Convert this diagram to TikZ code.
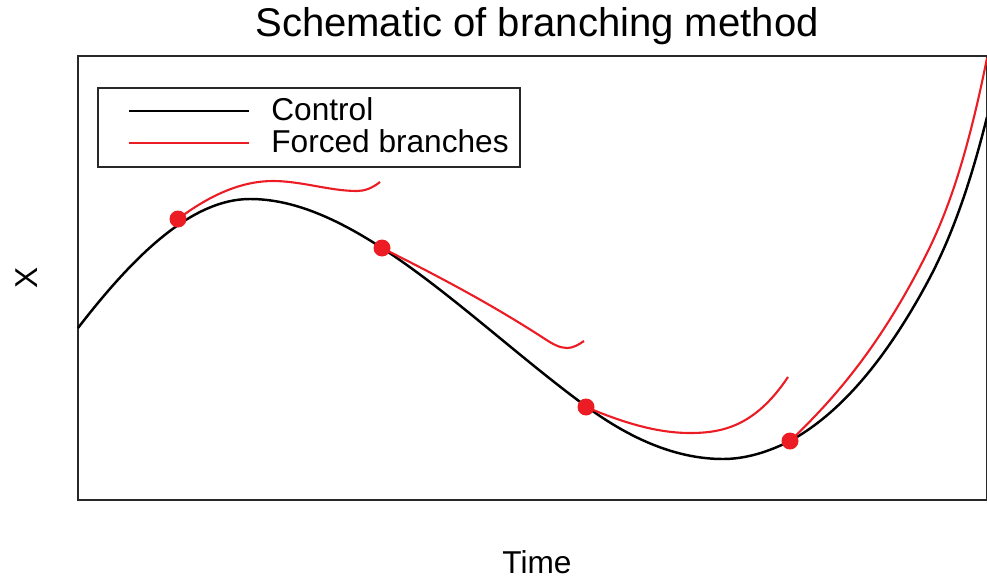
\documentclass[tikz,border=0pt]{standalone}
\usepackage{fontspec}
\setmainfont{Liberation Sans}
\usepackage{xcolor}
\definecolor{brred}{RGB}{236,28,36}
\definecolor{frgray}{RGB}{40,40,40}
\usetikzlibrary{positioning}

\tikzset{
  ctlline/.style={black, line width=1.4pt},
  brline/.style={brred, line width=1.2pt},
  brdot/.style={circle, fill=brred, inner sep=0pt, minimum size=0.34cm},
  lbl/.style={font=\fontsize{18}{22}\selectfont}
}

\begin{document}
\begin{tikzpicture}[x=0.02cm, y=-0.02cm]
\useasboundingbox (0,0) rectangle (987,578);

% --- Frame and axis labels ---
\draw[frgray, line width=0.8pt] (78,56) rectangle (986.5,500);
\node[font=\fontsize{22.8}{27}\selectfont] (title) at (537,26) {Schematic of branching method};
\node[lbl] (xlab) at (537,562) {Time};
\node[lbl, rotate=90] (ylab) at (27,278) {X};

% --- Control run ---
\draw[ctlline] (78,328) .. controls (135.3,253.5) and (192.7,199) .. (250,199)
  .. controls (294,199) and (338,219.4) .. (382,248)
  .. controls (450.3,292.4) and (518.7,357.1) .. (587,407)
  .. controls (632.3,440.1) and (677.7,459) .. (723,459)
  .. controls (745.3,459) and (767.7,452.2) .. (790,441)
  .. controls (835.7,415.9) and (881.3,367.5) .. (927,283)
  .. controls (947,246) and (967,197) .. (987,117);

% --- Forced branches ---
\draw[brline] (178,219) .. controls (209.7,195.2) and (241.3,181) .. (273,181)
  .. controls (301.3,181) and (329.7,191) .. (357,191)
  .. controls (364.7,191) and (372.3,188.1) .. (380,182);
\draw[brline] (382,248) .. controls (436.3,275.2) and (490.7,303.7) .. (545,339)
  .. controls (552.3,343.8) and (559.7,348) .. (567,348)
  .. controls (572.7,348) and (578.3,345) .. (584,341);
\draw[brline] (586,407) .. controls (620.7,421.6) and (655.3,433) .. (690,433)
  .. controls (722.7,433) and (755.3,426) .. (788,377);
\draw[brline] (790,441) .. controls (835.7,397.6) and (881.3,344.4) .. (927,253)
  .. controls (947,213) and (967,158) .. (987,58);

% Branch points
\foreach \px/\py [count=\i] in {178/219, 382/248, 586/407, 790/441}
  \node[brdot] (bp\i) at (\px,\py) {};

% --- Legend ---
\draw[frgray, line width=0.6pt] (98,88) rectangle (520,167);
\draw[ctlline] (129,111) -- (249,111);
\draw[brline] (129,143) -- (249,143);
\node[lbl, anchor=west, inner sep=0pt] (legctl) at (271,109) {Control};
\node[lbl, anchor=west, inner sep=0pt] (legfrc) at (271,141) {Forced branches};

\end{tikzpicture}
\end{document}
